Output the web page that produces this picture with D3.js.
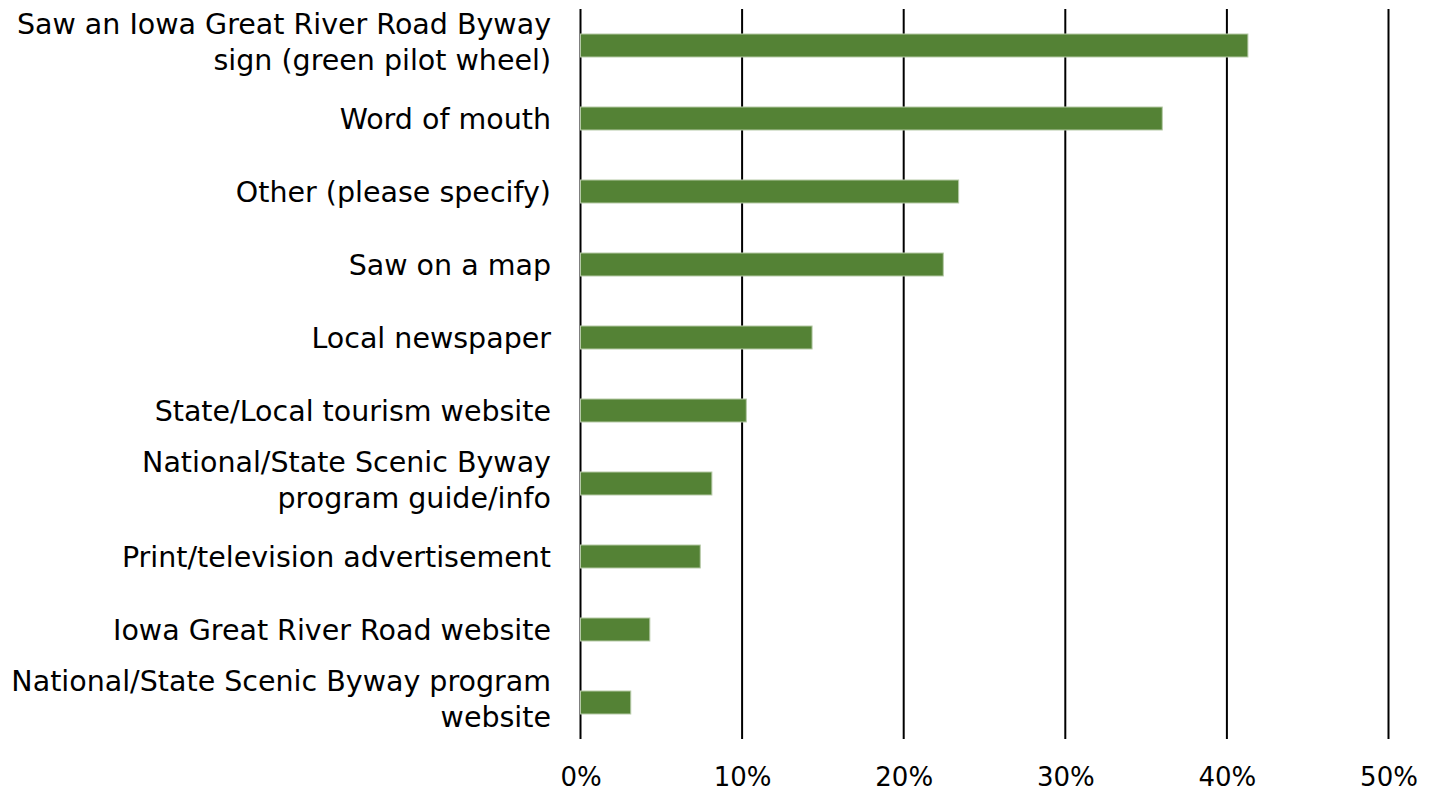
<!DOCTYPE html>
<html><head><meta charset="utf-8">
<script src="https://cdn.jsdelivr.net/npm/d3@7"></script>
<style>body{margin:0;background:#fff}svg{display:block}</style>
</head><body>
<script>
const categories = [
  ["Saw an Iowa Great River Road Byway","sign (green pilot wheel)"],
  ["Word of mouth"],
  ["Other (please specify)"],
  ["Saw on a map"],
  ["Local newspaper"],
  ["State/Local tourism website"],
  ["National/State Scenic Byway","program guide/info"],
  ["Print/television advertisement"],
  ["Iowa Great River Road website"],
  ["National/State Scenic Byway program","website"]
];
const values = [41.3, 36.0, 23.4, 22.45, 14.33, 10.26, 8.13, 7.41, 4.29, 3.11];
const ticks = [0, 10, 20, 30, 40, 50];

const W = 1433, H = 791;
const m = {left: 580.5, right: 1388.5, top: 9, bottom: 739};
const font = "'DejaVu Sans', sans-serif";
const fs = 28.5;

const svg = d3.select("body").append("svg").attr("width", W).attr("height", H);
const x = d3.scaleLinear().domain([0, 50]).range([m.left, m.right]);
const y = d3.scaleBand().domain(d3.range(categories.length)).range([m.top, m.bottom]).paddingInner(0.685).paddingOuter(0.3425);

// gridlines
svg.append("g").selectAll("line").data(ticks).join("line")
  .attr("x1", d => x(d)).attr("x2", d => x(d))
  .attr("y1", m.top).attr("y2", m.bottom)
  .attr("stroke", "#000").attr("stroke-width", 2);

// bars
svg.append("g").selectAll("rect").data(values).join("rect")
  .attr("x", x(0)).attr("y", (d, i) => y(i))
  .attr("width", d => x(d) - x(0)).attr("height", y.bandwidth())
  .attr("fill", "#548235").attr("stroke", "#b5c9a6").attr("stroke-width", 1);

// x tick labels
const xAxis = d3.axisBottom(x).tickValues(ticks).tickFormat(d => d + "%").tickSize(0).tickPadding(0);
const gx = svg.append("g").attr("transform", `translate(0,${m.bottom})`).call(xAxis);
gx.select(".domain").remove();
gx.selectAll("text").attr("font-family", font).attr("font-size", 26).attr("fill", "#000")
  .attr("dy", null).attr("y", 47);

// category labels
const lab = svg.append("g").selectAll("text").data(categories).join("text")
  .attr("x", 551).attr("text-anchor", "end")
  .attr("font-family", font).attr("font-size", fs).attr("fill", "#000");
lab.each(function(lines, i) {
  const cy = y(i) + y.bandwidth() / 2;
  const n = lines.length;
  d3.select(this).selectAll("tspan").data(lines).join("tspan")
    .attr("x", 551)
    .attr("y", (l, j) => n === 1 ? cy + 10 : cy - 12 + j * 36)
    .text(l => l);
});
</script>
</body></html>
